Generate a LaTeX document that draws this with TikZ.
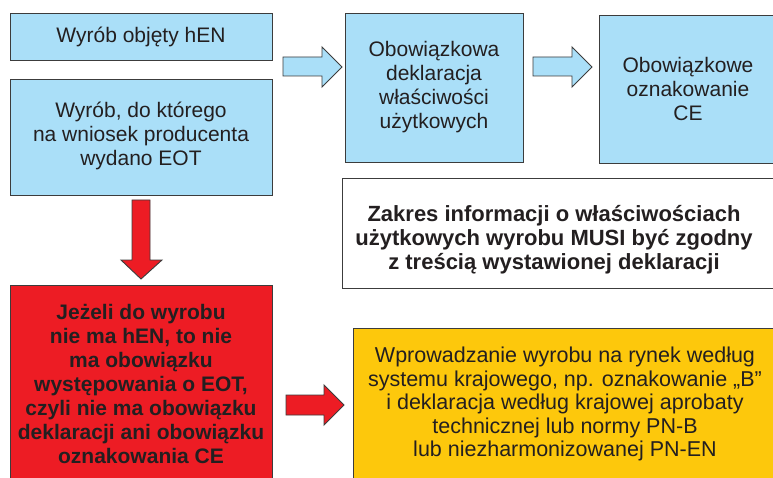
\documentclass[tikz,border=0pt]{standalone}
\usepackage{fontspec}
\setmainfont{Liberation Sans}
\definecolor{boxblue}{RGB}{170,223,248}
\definecolor{boxred}{RGB}{237,28,36}
\definecolor{boxyellow}{RGB}{253,200,12}
\definecolor{edge}{RGB}{60,60,60}
\definecolor{ink}{RGB}{35,31,32}
\tikzset{
  boxshape/.style={draw=edge, line width=0.9pt},
  txt/.style={text=ink, align=center, inner sep=0pt, font=\fontsize{21}{24}\selectfont},
  btxt/.style={txt, font=\fontsize{21}{24}\selectfont\bfseries},
  blockarrow/.style={draw=edge, line width=0.9pt, line join=miter}
}
\begin{document}
\begin{tikzpicture}[x=1pt,y=-1pt]
\clip (0,0) rectangle (773,478);
\fill[white] (0,0) rectangle (773,478);
% boxes
\draw[boxshape, fill=boxblue] (10,13) rectangle (272,60);
\draw[boxshape, fill=boxblue] (10,79) rectangle (272,195);
\draw[boxshape, fill=boxblue] (345,13) rectangle (523,162);
\draw[boxshape, fill=boxblue] (599,15) rectangle (790,163);
\draw[boxshape, fill=white] (342,178) rectangle (790,288);
\draw[boxshape, fill=boxred] (10,285) rectangle (272,495);
\draw[boxshape, fill=boxyellow] (353,328) rectangle (790,495);
% texts
\node[txt] (t1) at (141,36.5) {Wyrób objęty hEN};
\node[txt] (t2) at (141,136) {Wyrób, do którego\\na wniosek producenta\\wydano EOT};
\node[txt] (t3) at (434,87) {Obowiązkowa\\deklaracja\\właściwości\\użytkowych};
\node[txt] (t4) at (688,89) {Obowiązkowe\\oznakowanie\\CE};
\node[btxt, font=\fontsize{22}{24}\selectfont\bfseries] (t5) at (554,240) {Zakres informacji o właściwościach\\użytkowych wyrobu MUSI być zgodny\\z treścią wystawionej deklaracji};
\node[btxt] (t6) at (141,384) {Jeżeli do wyrobu\\nie ma hEN, to nie\\ma obowiązku\\występowania o EOT,\\czyli nie ma obowiązku\\deklaracji ani obowiązku\\oznakowania CE};
\node[txt, font=\fontsize{21.5}{23.5}\selectfont] (t7) at (565,404) {Wprowadzanie wyrobu na rynek według\\systemu krajowego, np. oznakowanie „B”\\i deklaracja według krajowej aprobaty\\technicznej lub normy PN-B\\lub niezharmonizowanej PN-EN};
% block arrows
\draw[blockarrow, fill=boxblue] (283,57) -- (322,57) -- (322,47) -- (342,67) -- (322,87) -- (322,76) -- (283,76) -- cycle;
\draw[blockarrow, fill=boxblue] (533,57) -- (572,57) -- (572,47) -- (592,67) -- (572,87) -- (572,76) -- (533,76) -- cycle;
\draw[blockarrow, fill=boxred] (132,200) -- (150,200) -- (150,260) -- (162,260) -- (141,279) -- (121,260) -- (132,260) -- cycle;
\draw[blockarrow, fill=boxred] (286,395) -- (324,395) -- (324,385) -- (344,405) -- (324,425) -- (324,415) -- (286,415) -- cycle;
\end{tikzpicture}
\end{document}
